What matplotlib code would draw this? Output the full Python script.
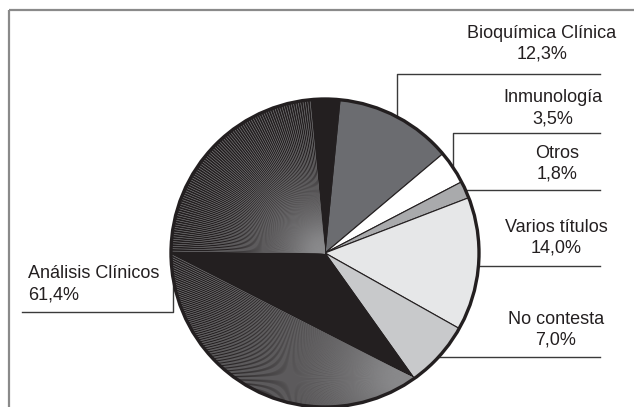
import numpy as np
import matplotlib
matplotlib.use("Agg")
import matplotlib.pyplot as plt
from matplotlib.collections import LineCollection
from matplotlib.patches import Circle

plt.rcParams['font.family'] = ['Liberation Sans', 'DejaVu Sans']

# Titulación de los encuestados (%)
categorias = ["Bioquímica Clínica", "Inmunología", "Otros",
              "Varios títulos", "No contesta", "Análisis Clínicos"]
porcentajes = [12.3, 3.5, 1.8, 14.0, 7.0, 61.4]
etiquetas = ["12,3%", "3,5%", "1,8%", "14,0%", "7,0%", "61,4%"]

colores = ["#6b6c70", "#ffffff", "#a9aaac", "#e6e7e8", "#c8c9cb", "#231f20"]
tinta = "#231f20"

W, H = 634, 407
fig = plt.figure(figsize=(W / 100, H / 100), dpi=100)
ax = fig.add_axes([0, 0, 1, 1])


def py(y):
    # coordenadas de pixel (origen arriba) -> datos
    return H - y


cx, cy, r = 325, py(253), 154

wedges, _ = ax.pie(porcentajes, colors=colores, startangle=84.4,
                   counterclock=False, center=(cx, cy), radius=r,
                   frame=True,
                   wedgeprops=dict(edgecolor=tinta, linewidth=0.8))


def punto(ang):
    t = np.deg2rad(ang)
    return cx + r * 1.02 * np.cos(t), cy + r * 1.02 * np.sin(t)


# relleno degradado del sector mayor, dibujado como abanicos de trazos finos
grande = wedges[-1]
a, b = grande.theta1, grande.theta2
gris = "#8a8a8c"

# abanico superior, desde el centro
angs = np.arange(a + 11.2, -180, 0.9)
segs = [[(cx, cy), punto(t)] for t in angs]
lc1 = LineCollection(segs, colors=gris, linewidths=0.4, zorder=3)
lc1.set_clip_path(grande)
ax.add_collection(lc1)

# abanico inferior, desde el extremo del sector
vx, vy = cx + r * np.cos(np.deg2rad(b)), cy + r * np.sin(np.deg2rad(b))
angs = np.arange(-180, b - 2, 0.9)
segs = [[(vx, vy), punto(t)] for t in angs]
lc2 = LineCollection(segs, colors=gris, linewidths=0.4, zorder=3)
lc2.set_clip_path(grande)
ax.add_collection(lc2)

ax.add_patch(Circle((cx, cy), r, fill=False, ec=tinta, lw=2.4, zorder=5))


def borde_y(y):
    # x de pixel del borde derecho del círculo para una y dada
    return cx + np.sqrt(r ** 2 - (py(y) - cy) ** 2)


def borde_x(x, arriba=True):
    d = np.sqrt(r ** 2 - (x - cx) ** 2)
    return py(253 - d) if arriba else py(253 + d)


lk = dict(color="#3a3a3a", lw=1.0, zorder=4)

# líneas guía
ax.plot([397, 397, 600], [borde_x(397), py(74), py(74)], **lk)
ax.plot([453, 453, 600], [borde_x(453), py(133), py(133)], **lk)
ax.plot([borde_y(190), 600], [py(190), py(190)], **lk)
ax.plot([borde_y(266), 600], [py(266), py(266)], **lk)
ax.plot([borde_y(357), 600], [py(357), py(357)], **lk)
ax.plot([173, 173, 22], [borde_x(173, False), py(312), py(312)], **lk)

# textos
tk = dict(fontsize=13, color=tinta, ha="center", va="center")
pos = [(542, 33), (553, 98), (557, 153), (556, 227), (556, 319)]
for (x, y), nom, et in zip(pos, categorias[:5], etiquetas[:5]):
    ax.text(x, py(y), nom, **tk)
    ax.text(x, py(y + 21), et, **tk)

ax.text(28, py(273), categorias[5], fontsize=13, color=tinta, ha="left", va="center")
ax.text(28, py(295), etiquetas[5], fontsize=13, color=tinta, ha="left", va="center")

# marco
mk = dict(color="#8a8a8a", lw=1.6, zorder=6, solid_capstyle="butt")
ax.plot([9, W], [py(10), py(10)], **mk)
ax.plot([9, 9], [py(10), py(H)], **mk)

ax.set_xlim(0, W)
ax.set_ylim(0, H)
ax.set_aspect("equal")
ax.axis("off")

fig.savefig("out.png", dpi=100, facecolor="white")
